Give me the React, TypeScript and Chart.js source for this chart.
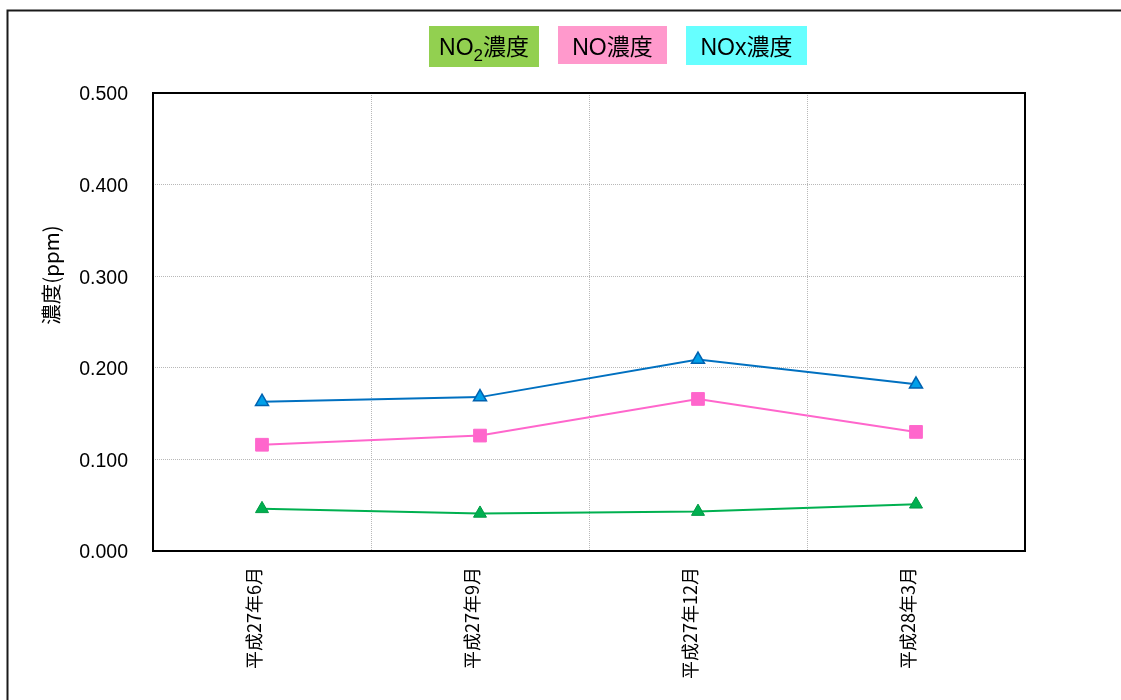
import React, { useEffect, useRef } from "react";
import { Chart, registerables } from "chart.js";

Chart.register(...registerables);

const categories = ["平成27年6月", "平成27年9月", "平成27年12月", "平成28年3月"];
const no2Values = [0.046, 0.041, 0.043, 0.051];
const noValues = [0.116, 0.126, 0.166, 0.130];
const noxValues = [0.163, 0.168, 0.209, 0.182];
const yTickMin = 0;
const yTickMax = 0.5;
const yTickStep = 0.1;
const yAxisTitle = "濃度(ppm)";
const legendMain = ["NO", "NO", "NOx"];
const legendSub = ["2", "", ""];
const legendTail = ["濃度", "濃度", "濃度"];
const legendColors = ["#92D050", "#FF99CC", "#66FFFF"];

const LATIN = "'Liberation Sans', 'Noto Sans CJK JP', sans-serif";
const CJK = "'Noto Sans CJK JP', 'Liberation Sans', sans-serif";

const legendBoxes = [
  { x: 429, y: 26, w: 110, h: 41 },
  { x: 558, y: 26, w: 109, h: 38 },
  { x: 686, y: 26, w: 121, h: 39 },
];

const decorPlugin = {
  id: "decor",
  beforeDraw(chart: any) {
    const { ctx } = chart;
    ctx.save();
    ctx.fillStyle = "#ffffff";
    ctx.fillRect(0, 0, chart.width, chart.height);
    ctx.restore();
  },
  afterDraw(chart: any) {
    const { ctx, chartArea } = chart;
    ctx.save();
    ctx.setLineDash([]);
    ctx.strokeStyle = "#000000";
    ctx.lineWidth = 2;
    ctx.strokeRect(
      chartArea.left,
      chartArea.top,
      chartArea.right - chartArea.left,
      chartArea.bottom - chartArea.top
    );
    ctx.strokeStyle = "#1a1a1a";
    ctx.strokeRect(7.5, 10.5, chart.width + 20, chart.height + 20);

    // y-axis title
    ctx.save();
    ctx.translate(51, 275);
    ctx.rotate(-Math.PI / 2);
    ctx.fillStyle = "#000000";
    ctx.font = `20.5px ${CJK}`;
    ctx.textAlign = "center";
    ctx.textBaseline = "middle";
    ctx.fillText(yAxisTitle, 0, 0);
    ctx.restore();

    // legend
    const mainFont = `23px ${LATIN}`;
    const subFont = `17px ${LATIN}`;
    legendBoxes.forEach((b, i) => {
      ctx.fillStyle = legendColors[i];
      ctx.fillRect(b.x, b.y, b.w, b.h);
      ctx.font = mainFont;
      const wMain = ctx.measureText(legendMain[i]).width;
      const wTail = ctx.measureText(legendTail[i]).width;
      ctx.font = subFont;
      const wSub = legendSub[i] ? ctx.measureText(legendSub[i]).width : 0;
      const total = wMain + wSub + wTail;
      let x = b.x + b.w / 2 - total / 2;
      const base = 54.5;
      ctx.fillStyle = "#000000";
      ctx.textAlign = "left";
      ctx.textBaseline = "alphabetic";
      ctx.font = mainFont;
      ctx.fillText(legendMain[i], x, base);
      x += wMain;
      if (legendSub[i]) {
        ctx.font = subFont;
        ctx.fillText(legendSub[i], x, base + 6);
        x += wSub;
      }
      ctx.font = mainFont;
      ctx.fillText(legendTail[i], x, base);
    });
    ctx.restore();
  },
};

export default function App() {
  const ref = useRef<HTMLCanvasElement | null>(null);
  useEffect(() => {
    if (!ref.current) return;
    const chart = new Chart(ref.current, {
      type: "line",
      data: {
        labels: categories,
        datasets: [
          {
            label: "NO2濃度",
            data: no2Values,
            borderColor: "#00B050",
            backgroundColor: "#00B050",
            pointBackgroundColor: "#00B050",
            pointBorderColor: "#009944",
            pointStyle: "triangle",
            pointRadius: 7.5,
            pointBorderWidth: 1,
            borderWidth: 2,
            tension: 0,
          },
          {
            label: "NO濃度",
            data: noValues,
            borderColor: "#FF66CC",
            backgroundColor: "#FF66CC",
            pointBackgroundColor: "#FF66CC",
            pointBorderColor: "#FF66CC",
            pointStyle: "rect",
            pointRadius: 9,
            pointBorderWidth: 1,
            borderWidth: 2,
            tension: 0,
          },
          {
            label: "NOx濃度",
            data: noxValues,
            borderColor: "#0070C0",
            backgroundColor: "#00A0E9",
            pointBackgroundColor: "#00A0E9",
            pointBorderColor: "#0062B0",
            pointStyle: "triangle",
            pointRadius: 7.5,
            pointBorderWidth: 1.5,
            borderWidth: 2,
            tension: 0,
          },
        ],
      },
      options: {
        responsive: false,
        animation: false,
        layout: { padding: { top: 93, right: 96, bottom: 0, left: 0 } },
        plugins: {
          legend: { display: false },
          tooltip: { enabled: false },
          title: { display: false },
        },
        scales: {
          x: {
            type: "category",
            offset: true,
            grid: {
              offset: true,
              color: "#b8b8b8",
              lineWidth: 1,
              drawTicks: false,
            },
            border: { display: false, dash: [1, 1] },
            ticks: {
              autoSkip: false,
              maxRotation: 90,
              minRotation: 90,
              padding: 16,
              labelOffset: -8,
              color: "#000000",
              font: { family: CJK, size: 18 },
            },
            afterFit(scale: any) {
              scale.height = 149;
            },
          },
          y: {
            min: yTickMin,
            max: yTickMax,
            grid: {
              color: "#b8b8b8",
              lineWidth: 1,
              drawTicks: false,
            },
            border: { display: false, dash: [1, 1] },
            ticks: {
              stepSize: yTickStep,
              padding: 25,
              labelOffset: 2,
              color: "#000000",
              font: { family: LATIN, size: 19.5 },
              callback: (v: any) => Number(v).toFixed(3),
            },
            afterFit(scale: any) {
              scale.width = 153;
            },
          },
        },
      },
      plugins: [decorPlugin],
    } as any);
    return () => chart.destroy();
  }, []);
  return (
    <div style={{ position: "absolute", left: 0, top: 0, width: 1121, height: 700, background: "#fff" }}>
      <canvas ref={ref} width={1121} height={700} style={{ display: "block" }} />
    </div>
  );
}
